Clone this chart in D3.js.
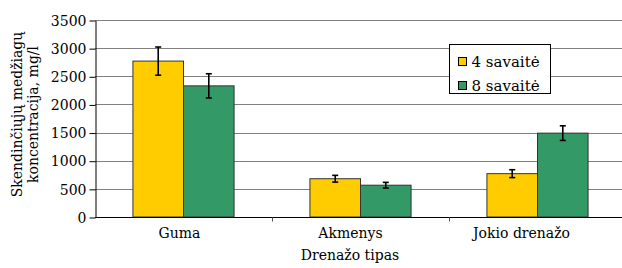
<!DOCTYPE html>
<html>
<head>
<meta charset="utf-8">
<script src="https://cdnjs.cloudflare.com/ajax/libs/d3/7.8.5/d3.min.js"></script>
<style>
  body { margin: 0; background: #fff; }
</style>
</head>
<body>
<div id="chart"></div>
<script>
var categories = ["Guma", "Akmenys", "Jokio drenažo"];
var seriesNames = ["4 savaitė", "8 savaitė"];
var week4 = [2770, 680, 770];
var week8 = [2330, 565, 1490];
var week4Err = [250, 60, 70];
var week8Err = [215, 50, 130];
var yTicks = [0, 500, 1000, 1500, 2000, 2500, 3000, 3500];
var colors = ["#FFCC00", "#339966"];

var serif = "DejaVu Serif";
var w = 622, h = 268;
var plotL = 95, plotR = 626, plotT = 20, plotB = 217;

var svg = d3.select("#chart")
    .append("svg")
    .attr("width", w)
    .attr("height", h)
    .attr("font-family", serif);

var x = d3.scaleBand()
    .domain(categories)
    .range([plotL, plotR])
    .paddingInner(0)
    .paddingOuter(0);

// labels sit a bit left of the band centres in the original
var xLabel = d3.scaleBand()
    .domain(categories)
    .range([plotL - 1, 607]);

var xInner = d3.scaleBand()
    .domain(seriesNames)
    .range([0, x.bandwidth()])
    .paddingOuter(0.75)
    .paddingInner(0);

var y = d3.scaleLinear()
    .domain([0, 3500])
    .range([plotB, plotT]);

// gridlines
svg.selectAll("line.grid")
    .data(yTicks.slice(1))
    .enter()
    .append("line")
    .attr("x1", plotL)
    .attr("x2", w)
    .attr("y1", function(d){ return Math.round(y(d)) + 0.5; })
    .attr("y2", function(d){ return Math.round(y(d)) + 0.5; })
    .style("stroke", "#808080")
    .style("stroke-width", 1);

var rows = categories.map(function(c, i){
  return [
    {cat: c, s: seriesNames[0], v: week4[i], e: week4Err[i], col: colors[0]},
    {cat: c, s: seriesNames[1], v: week8[i], e: week8Err[i], col: colors[1]}
  ];
});
var bars = [].concat.apply([], rows);

svg.selectAll("rect.bar")
    .data(bars)
    .enter()
    .append("rect")
    .attr("x", function(d){ return x(d.cat) + xInner(d.s); })
    .attr("width", xInner.bandwidth())
    .attr("y", function(d){ return y(d.v); })
    .attr("height", function(d){ return y(0) - y(d.v); })
    .style("fill", function(d){ return d.col; })
    .style("stroke", "#333")
    .style("stroke-width", 1);

// error bars
var err = svg.selectAll("g.err")
    .data(bars)
    .enter()
    .append("g")
    .attr("transform", function(d){
      return "translate(" + (x(d.cat) + xInner(d.s) + xInner.bandwidth() / 2) + ",0)";
    });

err.append("line")
    .attr("x1", 0).attr("x2", 0)
    .attr("y1", function(d){ return y(d.v + d.e); })
    .attr("y2", function(d){ return y(d.v - d.e); });
err.append("line")
    .attr("x1", -3).attr("x2", 3)
    .attr("y1", function(d){ return y(d.v + d.e); })
    .attr("y2", function(d){ return y(d.v + d.e); });
err.append("line")
    .attr("x1", -3).attr("x2", 3)
    .attr("y1", function(d){ return y(d.v - d.e); })
    .attr("y2", function(d){ return y(d.v - d.e); });
err.selectAll("line")
    .style("stroke", "#000")
    .style("stroke-width", 1.6);

// y axis
var yAxis = svg.append("g")
    .attr("transform", "translate(" + (plotL + 0.5) + ",0.5)")
    .call(d3.axisLeft(y).tickValues(yTicks).tickFormat(d3.format("d"))
      .tickSize(6).tickPadding(3).tickSizeOuter(0));
yAxis.attr("font-family", serif).attr("font-size", 14);
yAxis.selectAll("text").attr("dy", "0.34em");
yAxis.selectAll("line, path").style("stroke", "#000");

// x axis
var xAxis = svg.append("g")
    .attr("transform", "translate(0," + (plotB + 0.5) + ")");
xAxis.append("line")
    .attr("x1", plotL)
    .attr("x2", w)
    .style("stroke", "#000");
xAxis.selectAll("line.tick")
    .data(categories.slice(1))
    .enter()
    .append("line")
    .attr("x1", function(d){ return Math.round(x(d)) + 0.5; })
    .attr("x2", function(d){ return Math.round(x(d)) + 0.5; })
    .attr("y1", 0)
    .attr("y2", 4)
    .style("stroke", "#555");
xAxis.selectAll("text")
    .data(categories)
    .enter()
    .append("text")
    .attr("x", function(d){ return xLabel(d) + xLabel.bandwidth() / 2; })
    .attr("y", 20)
    .attr("text-anchor", "middle")
    .attr("font-size", 14)
    .text(function(d){ return d; });

svg.append("text")
    .attr("x", 350)
    .attr("y", 260)
    .attr("text-anchor", "middle")
    .attr("font-size", 14)
    .text("Drenažo tipas");

// y title, two lines
var yt = svg.append("text")
    .attr("transform", "translate(22," + ((plotT + plotB) / 2 - 4) + ") rotate(-90)")
    .attr("text-anchor", "middle")
    .attr("font-size", 14);
yt.append("tspan").attr("x", 0).attr("y", 0).text("Skendinčiųjų medžiagų");
yt.append("tspan").attr("x", 0).attr("y", 16).text("koncentracija, mg/l");

// legend
var lg = svg.append("g").attr("transform", "translate(449.5,44.5)");
lg.append("rect")
    .attr("width", 101)
    .attr("height", 49)
    .style("fill", "#fff")
    .style("stroke", "#000")
    .style("stroke-width", 1);
var item = lg.selectAll("g.item")
    .data(seriesNames)
    .enter()
    .append("g")
    .attr("transform", function(d, i){ return "translate(9," + (13 + i * 24) + ")"; });
item.append("rect")
    .attr("width", 8)
    .attr("height", 8)
    .style("fill", function(d, i){ return colors[i]; })
    .style("stroke", "#000")
    .style("stroke-width", 1);
item.append("text")
    .attr("x", 13)
    .attr("y", 9)
    .attr("font-size", 15)
    .text(function(d){ return d; });

svg.selectAll("text")
    .attr("font-family", serif)
    .attr("fill", "#000");
</script>
</body>
</html>
